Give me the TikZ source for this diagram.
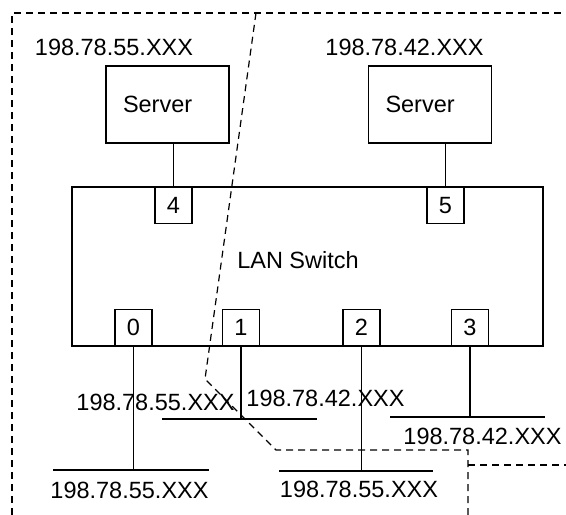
\documentclass[tikz,border=0pt]{standalone}
\usepackage{fontspec}
\setmainfont{Liberation Sans}
\usetikzlibrary{positioning}
\tikzset{
  server/.style={draw, rectangle, line width=1.2pt, minimum height=77pt, text width=89pt, inner xsep=17pt, inner ysep=0pt, align=left},
  switchbox/.style={draw, rectangle, line width=1.2pt, minimum width=471pt, minimum height=159pt},
  port/.style={draw, rectangle, line width=1.2pt, fill=white, minimum width=37pt, minimum height=36pt, inner sep=0pt},
  addr/.style={inner sep=0pt},
  link/.style={line width=1.2pt},
  segment/.style={line width=1.5pt},
  zone/.style={line width=1.2pt, dash pattern=on 7pt off 5pt},
  every node/.style={font=\fontsize{23.5}{28}\selectfont}
}
\begin{document}
\begin{tikzpicture}[x=1pt,y=-1pt]
    \useasboundingbox (0,0) rectangle (566,515);
    \draw[zone] (12,515) -- (12,13) -- (566,13);
    \draw[zone] (256,13) -- (205,379) -- (276,450) -- (468,450) -- (468,515);
    \draw[zone] (468,465) -- (566,465);

    \node[server] (srvA) at (167.5,104.5) {Server};
    \node[server] (srvB) at (430,104.5) {Server};
    \node[addr] (ipA) at (114,47) {198.78.55.XXX};
    \node[addr] (ipB) at (404.5,47) {198.78.42.XXX};

    \node[switchbox] (lan) at (307.5,266.5) {};
    \node[addr] (lanname) at (298,260) {LAN Switch};

    \node[port, anchor=north] (p4) at (173.5,187) {4};
    \node[port, anchor=north] (p5) at (445.5,187) {5};
    \node[port, anchor=south] (p0) at (133.5,346) {0};
    \node[port, anchor=south] (p1) at (241,346) {1};
    \node[port, anchor=south] (p2) at (361.5,346) {2};
    \node[port, anchor=south] (p3) at (470,346) {3};

    \draw[link] (p4.north) -- (p4.north |- srvA.south);
    \draw[link] (p5.north) -- (p5.north |- srvB.south);

    \coordinate (s0l) at (53,470);
    \coordinate (s0r) at (209,470);
    \coordinate (s1l) at (162,419);
    \coordinate (s1r) at (317,419);
    \coordinate (s2l) at (279,471);
    \coordinate (s2r) at (433,471);
    \coordinate (s3l) at (390,417);
    \coordinate (s3r) at (545,417);

    \draw[segment] (s0l) -- (s0r);
    \draw[segment] (s1l) -- (s1r);
    \draw[segment] (s2l) -- (s2r);
    \draw[segment] (s3l) -- (s3r);

    \draw[link] (p0.south) -- (p0.south |- s0l);
    \draw[link] (p1.south) -- (p1.south |- s1l);
    \draw[link] (p2.south) -- (p2.south |- s2l);
    \draw[link] (p3.south) -- (p3.south |- s3l);

    \node[addr] (ip0) at (129.5,490) {198.78.55.XXX};
    \node[addr] (ip1a) at (155.5,402) {198.78.55.XXX};
    \node[addr] (ip1b) at (325.5,398) {198.78.42.XXX};
    \node[addr] (ip2) at (359,489) {198.78.55.XXX};
    \node[addr] (ip3) at (482.5,436) {198.78.42.XXX};
\end{tikzpicture}
\end{document}
